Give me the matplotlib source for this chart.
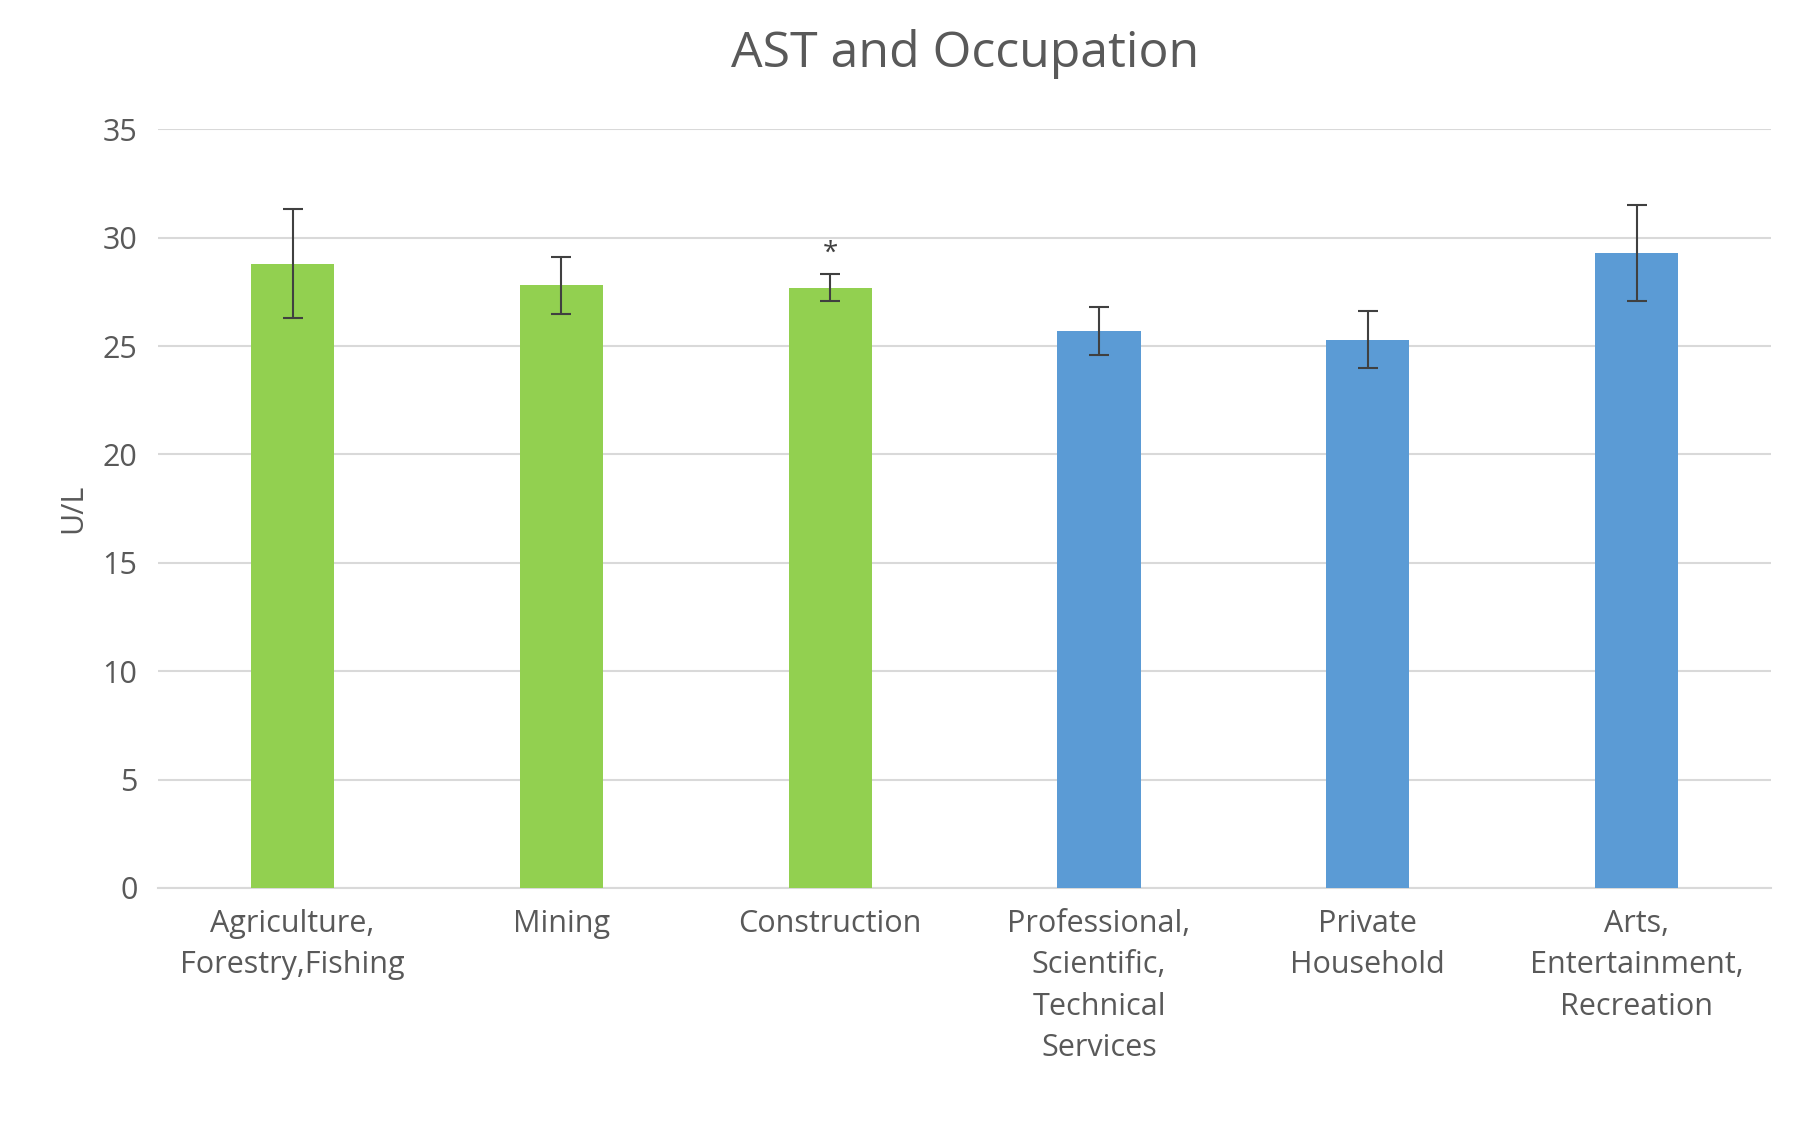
import matplotlib.pyplot as plt

categories = ["Agriculture,\nForestry,Fishing", "Mining", "Construction",
              "Professional,\nScientific,\nTechnical\nServices", "Private\nHousehold",
              "Arts,\nEntertainment,\nRecreation"]
values = [28.8, 27.8, 27.7, 25.7, 25.3, 29.3]
errors = [2.5, 1.3, 0.6, 1.1, 1.3, 2.2]
colors = ["#92d050", "#92d050", "#92d050", "#5b9bd5", "#5b9bd5", "#5b9bd5"]
yticks = [0, 5, 10, 15, 20, 25, 30, 35]

plt.rcParams['font.family'] = ['Open Sans', 'DejaVu Sans']
fig, ax = plt.subplots(figsize=(17.98, 11.24), dpi=100)
fig.subplots_adjust(left=0.088, right=0.985, top=0.885, bottom=0.21)

x = range(len(categories))
ax.bar(x, values, width=0.31, color=colors, zorder=3)
ax.errorbar(x, values, yerr=errors, fmt='none', ecolor='#404040',
            elinewidth=1.5, capsize=7, capthick=1.5, zorder=4)
ax.text(2, values[2] + errors[2] + 0.3, "*", ha='center', va='bottom',
        fontsize=20, color='#404040')

ax.set_ylim(0, 35)
ax.set_xlim(-0.5, 5.5)
ax.set_yticks(yticks)
ax.yaxis.grid(True, color='#d9d9d9', linewidth=1.5, zorder=0)
for s in ['top', 'right', 'left']:
    ax.spines[s].set_visible(False)
ax.spines['bottom'].set_color('#d9d9d9')
ax.spines['bottom'].set_linewidth(1.5)
ax.tick_params(length=0, labelsize=22, colors='#595959', pad=15)
ax.set_xticks(list(x))
ax.set_xticklabels(categories, fontsize=22, color='#595959', linespacing=1.5)
ax.set_ylabel("U/L", fontsize=22, color='#595959', labelpad=10)
ax.set_title("AST and Occupation", fontsize=36, color='#595959', pad=45)

fig.savefig("out.png")
